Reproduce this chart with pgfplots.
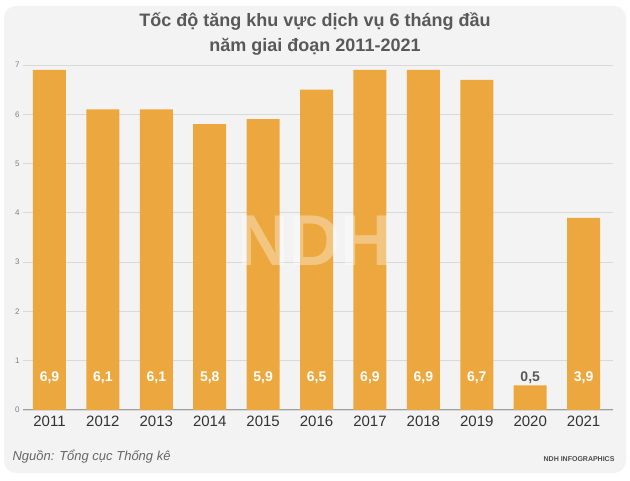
\documentclass[border=0pt]{standalone}
\usepackage{fontspec}
\setmainfont{Liberation Sans}
\usepackage{pgfplots}
\pgfplotsset{compat=1.18}
\definecolor{barc}{HTML}{ECA83E}
\definecolor{card}{HTML}{F3F3F3}
\definecolor{txt}{HTML}{595959}
\begin{document}
\begin{tikzpicture}[x=1pt,y=1pt]
\fill[white] (0,0) rectangle (630,481);
\fill[card, rounded corners=12pt] (4,8) rectangle (626,475);
\node[font=\bfseries\fontsize{18}{25}\selectfont, text=txt, align=center] at (315,447) {Tốc độ tăng khu vực dịch vụ 6 tháng đầu\\năm giai đoạn 2011-2021};
\begin{axis}[
  at={(23pt,71pt)}, anchor=south west,
  scale only axis, width=590pt, height=345pt,
  xmin=-0.496, xmax=10.55, ymin=0, ymax=7,
  ybar, bar width=33pt,
  axis x line*=bottom, axis y line*=left,
  y axis line style={draw=none},
  x axis line style={draw=gray!75, line width=1pt, -},
  ytick={0,1,...,7}, ymajorgrids,
  grid style={draw=gray!30, line width=0.8pt},
  major tick length=0pt,
  xtick={0,...,10},
  xticklabels={2011,2012,2013,2014,2015,2016,2017,2018,2019,2020,2021},
  x tick label style={font=\fontsize{15}{15}\selectfont, text=black!80, yshift=-2pt},
  y tick label style={font=\fontsize{8}{8}\selectfont, text=gray},
  /pgf/number format/assume math mode=true,
  clip=false,
]
\addplot[fill=barc, draw=none, bar shift=0pt] coordinates {
 (0,6.9) (1,6.1) (2,6.1) (3,5.8) (4,5.9) (5,6.5) (6,6.9) (7,6.9) (8,6.7) (9,0.5) (10,3.9)};
\addplot[fill=none, draw=none, bar shift=0pt, nodes near coords, point meta=explicit symbolic,
  nodes near coords style={anchor=center, font=\bfseries\fontsize{14}{14}\selectfont, text=white}]
  coordinates {(0,0.65)[6,9] (1,0.65)[6,1] (2,0.65)[6,1] (3,0.65)[5,8] (4,0.65)[5,9] (5,0.65)[6,5]
   (6,0.65)[6,9] (7,0.65)[6,9] (8,0.65)[6,7] (10,0.65)[3,9]};
\addplot[fill=none, draw=none, bar shift=0pt, nodes near coords, point meta=explicit symbolic,
  nodes near coords style={anchor=center, font=\bfseries\fontsize{14}{14}\selectfont, text=txt}]
  coordinates {(9,0.65)[0,5]};
\end{axis}
\node[font=\bfseries\fontsize{72}{72}\selectfont, text=white, opacity=0.35] at (315,240) {NDH};
\node[anchor=west, font=\itshape\fontsize{13}{13}\selectfont, text=black!60] at (9,24) {Nguồn: Tổng cục Thống kê};
\node[anchor=east, font=\bfseries\fontsize{7}{7}\selectfont, text=black!70] at (618,22) {NDH INFOGRAPHICS};
\end{tikzpicture}
\end{document}
